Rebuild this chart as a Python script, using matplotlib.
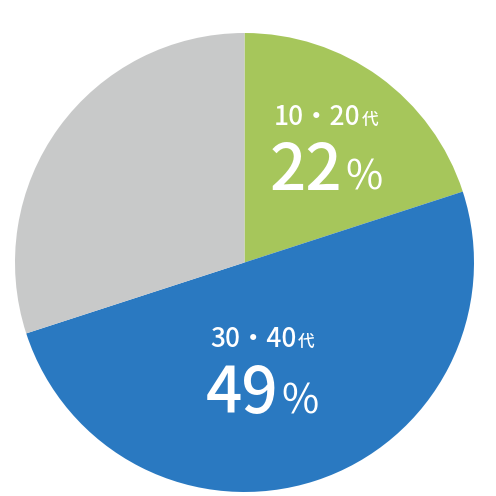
import matplotlib
matplotlib.use("Agg")
import matplotlib.pyplot as plt
from matplotlib import font_manager as fm

categories = ["10・20代", "30・40代", "その他"]
slice_values = [20, 50, 30]
label_ages = ["10・20", "30・40"]
label_pcts = ["22", "49"]
colors = ["#A6C65B", "#2A79C1", "#C8C9C9"]

plt.rcParams['font.family'] = ['Noto Sans CJK JP', 'DejaVu Sans']

fig = plt.figure(figsize=(4.96, 4.96), dpi=100)
ax = fig.add_axes([0, 0, 1, 1])
ax.axis('off')

cx, cy, r = 244.5, 496 - 262.5, 229.5
ax.pie(slice_values, colors=colors, startangle=90, counterclock=False,
       center=(cx, cy), radius=r, wedgeprops=dict(linewidth=0))
ax.set_xlim(0, 496)
ax.set_ylim(0, 496)
ax.set_aspect('equal')

renderer = fig.canvas.get_renderer()

def two_part(xc, y_base, main, suffix, s_main, s_suf, gap, w_main, w_suf):
    t1 = ax.text(0, y_base, main, fontsize=s_main, color='white', weight=w_main,
                 ha='left', va='baseline')
    t2 = ax.text(0, y_base, suffix, fontsize=s_suf, color='white', weight=w_suf,
                 ha='left', va='baseline')
    w1 = t1.get_window_extent(renderer).width
    w2 = t2.get_window_extent(renderer).width
    total = w1 + gap + w2
    x0 = xc - total / 2
    t1.set_x(x0)
    t2.set_x(x0 + w1 + gap)

def label(xc, base1, base2, age, pct):
    two_part(xc, 496 - base1, age, "代", 19, 12, 1, 'medium', 'medium')
    two_part(xc, 496 - base2, pct, "%", 46, 29, 3, 'medium', 'normal')

label(326, 125, 190, label_ages[0], label_pcts[0])
label(262, 347, 413, label_ages[1], label_pcts[1])

fig.savefig("out.png", dpi=100)
